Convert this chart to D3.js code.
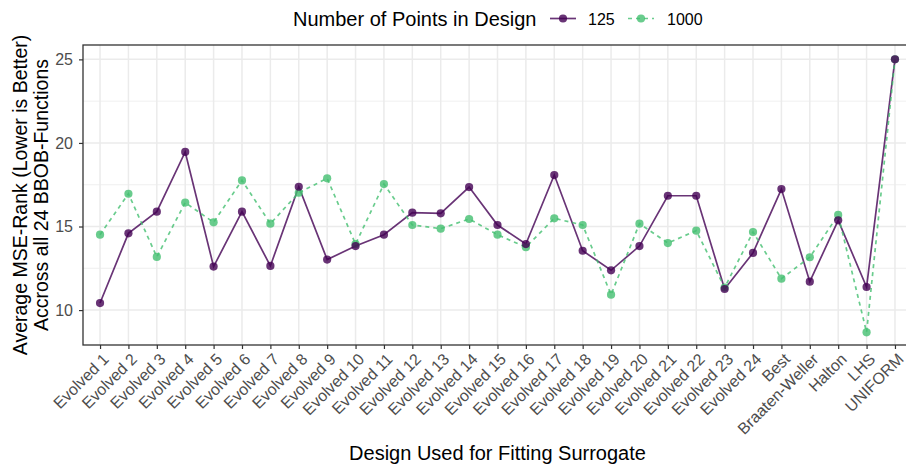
<!DOCTYPE html>
<html>
<head>
<meta charset="utf-8">
<script src="https://cdn.jsdelivr.net/npm/d3@7"></script>
<style>
  html, body { margin: 0; padding: 0; background: #fff; }
  svg { display: block; font-family: "Liberation Sans", Arial, Helvetica, sans-serif; }
</style>
</head>
<body>
<svg id="chart" width="906" height="464"></svg>
<script>
const categories = ["Evolved 1","Evolved 2","Evolved 3","Evolved 4","Evolved 5","Evolved 6","Evolved 7","Evolved 8","Evolved 9","Evolved 10","Evolved 11","Evolved 12","Evolved 13","Evolved 14","Evolved 15","Evolved 16","Evolved 17","Evolved 18","Evolved 19","Evolved 20","Evolved 21","Evolved 22","Evolved 23","Evolved 24","Best","Braaten-Weller","Halton","LHS","UNIFORM"];
const rank125 = [10.42,14.59,15.89,19.46,12.60,15.89,12.64,17.38,13.02,13.83,14.51,15.83,15.79,17.36,15.09,13.95,18.08,13.55,12.38,13.83,16.84,16.84,11.26,13.42,17.24,11.70,15.37,11.38,25.00];
const rank1000 = [14.51,16.96,13.18,16.43,15.25,17.76,15.17,17.02,17.88,13.95,17.54,15.09,14.87,15.45,14.51,13.76,15.49,15.09,10.92,15.17,14.01,14.75,11.35,14.67,11.88,13.16,15.69,8.67,25.00];
const seriesNames = ["125", "1000"];
const yTicks = [10, 15, 20, 25];
const yMinor = [12.5, 17.5, 22.5];

const colors = { "125": "#440154", "1000": "#44BF70" };
const svg = d3.select("#chart");

const panel = { left: 83, right: 912, top: 45, bottom: 345 };
const n = categories.length;
const step = (panel.right - panel.left) / (n - 1 + 1.2);
const x = d3.scalePoint().domain(categories)
  .range([panel.left + 0.6 * step, panel.right - 0.6 * step]);
const y = d3.scaleLinear().domain([7.91, 25.86]).range([panel.bottom, panel.top]);

svg.append("rect").attr("x", panel.left).attr("y", panel.top)
  .attr("width", panel.right - panel.left).attr("height", panel.bottom - panel.top)
  .attr("fill", "#fff");

const grid = svg.append("g");
yMinor.forEach(v => grid.append("line")
  .attr("x1", panel.left).attr("x2", panel.right)
  .attr("y1", y(v)).attr("y2", y(v))
  .attr("stroke", "#EBEBEB").attr("stroke-width", 0.8));
yTicks.forEach(v => grid.append("line")
  .attr("x1", panel.left).attr("x2", panel.right)
  .attr("y1", y(v)).attr("y2", y(v))
  .attr("stroke", "#EBEBEB").attr("stroke-width", 1.5));
categories.forEach(c => grid.append("line")
  .attr("x1", x(c)).attr("x2", x(c))
  .attr("y1", panel.top).attr("y2", panel.bottom)
  .attr("stroke", "#EBEBEB").attr("stroke-width", 1.5));

const data = {
  "125": categories.map((c, i) => ({ c, v: rank125[i] })),
  "1000": categories.map((c, i) => ({ c, v: rank1000[i] }))
};
const line = d3.line().x(d => x(d.c)).y(d => y(d.v));

svg.append("path").datum(data["125"]).attr("d", line)
  .attr("fill", "none").attr("stroke", colors["125"]).attr("stroke-opacity", 0.8)
  .attr("stroke-width", 1.7);
svg.append("path").datum(data["1000"]).attr("d", line)
  .attr("fill", "none").attr("stroke", colors["1000"]).attr("stroke-opacity", 0.8)
  .attr("stroke-width", 1.7).attr("stroke-dasharray", "4,4");

["1000", "125"].forEach(s => {
  svg.append("g").selectAll("circle").data(data[s]).join("circle")
    .attr("cx", d => x(d.c)).attr("cy", d => y(d.v)).attr("r", 4.1)
    .attr("fill", colors[s]).attr("fill-opacity", 0.8);
});

svg.append("rect").attr("x", panel.left).attr("y", panel.top)
  .attr("width", panel.right - panel.left).attr("height", panel.bottom - panel.top)
  .attr("fill", "none").attr("stroke", "#333333").attr("stroke-width", 1.3);

const yAxis = d3.axisLeft(y).tickValues(yTicks).tickSize(4).tickPadding(6);
const gy = svg.append("g").attr("transform", `translate(${panel.left},0)`).call(yAxis);
gy.select(".domain").remove();
gy.selectAll(".tick line").attr("stroke", "#333333").attr("stroke-width", 1.2);
gy.selectAll(".tick text").attr("fill", "#4D4D4D").attr("font-size", 16)
  .attr("font-family", "Liberation Sans, Arial, sans-serif");

const xAxis = d3.axisBottom(x).tickSize(4).tickPadding(2);
const gx = svg.append("g").attr("transform", `translate(0,${panel.bottom})`).call(xAxis);
gx.select(".domain").remove();
gx.selectAll(".tick line").attr("stroke", "#333333").attr("stroke-width", 1.2);
gx.selectAll(".tick text").attr("fill", "#4D4D4D").attr("font-size", 16)
  .attr("font-family", "Liberation Sans, Arial, sans-serif")
  .attr("text-anchor", "end")
  .attr("y", 0).attr("dy", "0.72em")
  .attr("transform", "translate(1,7) rotate(-45)");

svg.append("text").attr("x", (panel.left + panel.right) / 2).attr("y", 460)
  .attr("text-anchor", "middle").attr("font-size", 20).attr("fill", "#000")
  .text("Design Used for Fitting Surrogate");

const yt = svg.append("text").attr("transform", `translate(0,${(panel.top + panel.bottom) / 2}) rotate(-90)`)
  .attr("text-anchor", "middle").attr("font-size", 19.5).attr("fill", "#000");
yt.append("tspan").attr("x", 0).attr("y", 26.5).text("Average MSE-Rank (Lower is Better)");
yt.append("tspan").attr("x", 0).attr("y", 48).text("Accross all 24 BBOB-Functions");

const lg = svg.append("g");
lg.append("text").attr("x", 293).attr("y", 26).attr("font-size", 20).attr("fill", "#000")
  .text("Number of Points in Design");
const keys = [{ s: "125", x0: 550, tx: 588 }, { s: "1000", x0: 628, tx: 667 }];
keys.forEach(k => {
  lg.append("line").attr("x1", k.x0).attr("x2", k.x0 + 26).attr("y1", 18.5).attr("y2", 18.5)
    .attr("stroke", colors[k.s]).attr("stroke-opacity", 0.8).attr("stroke-width", 1.7)
    .attr("stroke-dasharray", k.s === "1000" ? "4,4" : null);
  lg.append("circle").attr("cx", k.x0 + 13).attr("cy", 18.5).attr("r", 4.1)
    .attr("fill", colors[k.s]).attr("fill-opacity", 0.8);
  lg.append("text").attr("x", k.tx).attr("y", 24.5).attr("font-size", 16).attr("fill", "#000")
    .text(k.s);
});
</script>
</body>
</html>
